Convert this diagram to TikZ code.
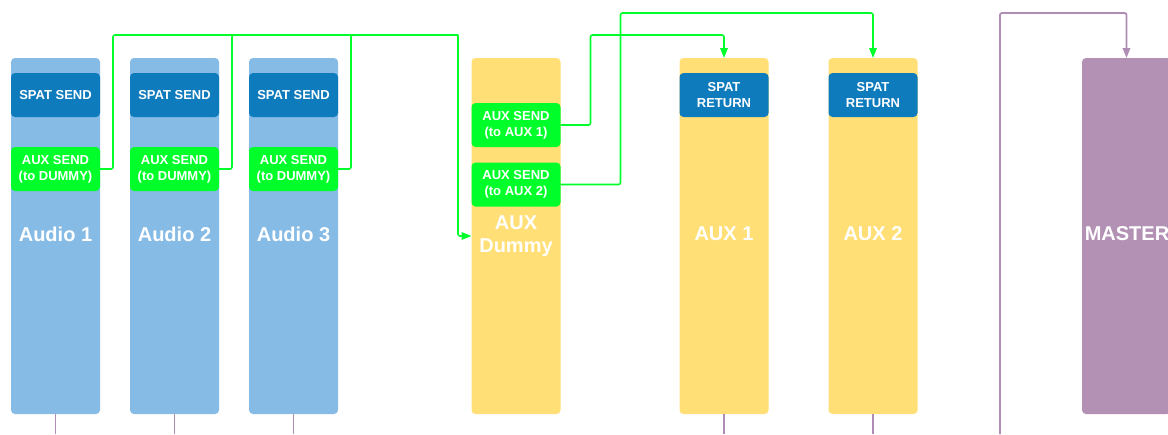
\documentclass[tikz,border=0pt]{standalone}
\usepackage{fontspec}
\setmainfont{Liberation Sans}
\usetikzlibrary{arrows.meta}
\definecolor{stripblue}{RGB}{134,187,230}
\definecolor{spatblue}{RGB}{14,123,189}
\definecolor{sendgreen}{RGB}{0,255,42}
\definecolor{auxyellow}{RGB}{255,223,118}
\definecolor{masterpurple}{RGB}{179,145,181}
\definecolor{linepurple}{RGB}{176,141,181}
\begin{document}
\begin{tikzpicture}[x=1pt, y=-1pt, >={Triangle[length=10pt,width=7.5pt]},
  strip/.style={rounded corners=4pt, minimum width=89pt, minimum height=356pt, inner sep=0pt, outer sep=0pt},
  insert/.style={rounded corners=4pt, minimum width=89pt, minimum height=44pt, inner sep=0pt, outer sep=0pt, text=white, font=\bfseries\fontsize{13}{16}\selectfont, align=center},
  title/.style={text=white, font=\bfseries\fontsize{20}{23}\selectfont, align=center},
  sendline/.style={draw=sendgreen, line width=1.6pt, rounded corners=2pt},
  busline/.style={draw=linepurple, line width=1.8pt, rounded corners=2pt}]
  \clip (0,0) rectangle (1168,434);
  \foreach \i/\x in {1/55.5, 2/174.5, 3/293.5} {
    \node[strip, fill=stripblue] (a\i) at (\x,236) {};
    \node[insert, fill=spatblue] (a\i spat) at (\x,95) {SPAT SEND};
    \node[insert, fill=sendgreen] (a\i aux) at (\x,169) {AUX SEND\\(to DUMMY)};
    \node[title] (a\i t) at (\x,234) {Audio \i};
  }
  \node[strip, fill=auxyellow] (dummy) at (516,236) {};
  \node[insert, fill=sendgreen] (d1) at (516,125) {AUX SEND\\(to AUX 1)};
  \node[insert, fill=sendgreen] (d2) at (516,184.5) {AUX SEND\\(to AUX 2)};
  \node[title] (dummyt) at (516,236) {AUX\\Dummy};
  \foreach \i/\x in {1/724, 2/873} {
    \node[strip, fill=auxyellow] (aux\i) at (\x,236) {};
    \node[insert, fill=spatblue] (aux\i ret) at (\x,95) {SPAT\\RETURN};
    \node[title] (aux\i t) at (\x,234) {AUX \i};
  }
  \node[strip, fill=masterpurple] (master) at (1126.5,236) {};
  \node[title] (mastert) at (1127,234) {MASTER};

  \coordinate (bus) at (458,35);
  \coordinate (r1) at (724,35);
  \coordinate (r2) at (873,13);
  \coordinate (mfeed) at (1000,434);
  \coordinate (mtop) at (1126.5,13);
  \foreach \i in {1,2,3}
    \draw[sendline] (a\i aux.east) -- ++(13,0) |- (bus);
  \draw[sendline, ->] (bus) |- (dummy.west);
  \draw[sendline, ->] (d1.east) -- ++(30,0) |- (r1) -- (aux1.north);
  \draw[sendline, ->] (d2.east) -- ++(60,0) |- (r2) -- (aux2.north);
  \draw[busline, ->] (mfeed) |- (mtop) -- (master.north);
  \foreach \n in {a1,a2,a3,aux1,aux2}
    \draw[busline, line width=1.2pt] (\n.south) -- ++(0,20);
\end{tikzpicture}
\end{document}
